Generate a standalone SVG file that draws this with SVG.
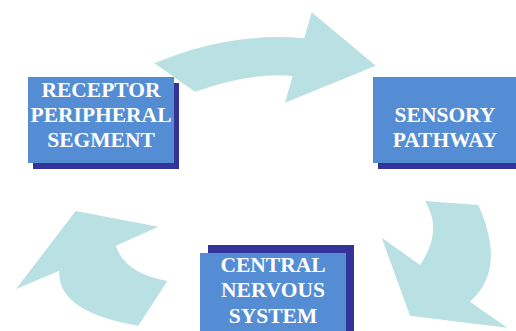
<svg xmlns="http://www.w3.org/2000/svg" width="516" height="331" viewBox="0 0 516 331">
<style>
.arrow{fill:#b9e0e3;stroke:none}
.box{fill:#558dd5}
.shadow{fill:#343399}
.lbl{font-family:"Liberation Serif","Times New Roman",serif;font-weight:bold;font-size:21.5px;fill:#ffffff;text-anchor:middle}
</style>
<rect width="516" height="331" fill="#ffffff"/>
<g id="connectors">
<path class="arrow" d="M154.3,63.3 Q229,31.5 304.3,38.3 L311.7,12.3 L375.7,65.7 L285,102.7 L292.7,76 Q250,72 195,91.7 Z"/>
<path class="arrow" d="M425,201 L478.3,205 C493,238 500,275 470,301.7 L507.3,327.7 L410,315.7 L381.7,237.7 L420,265 Q443.5,231 425,201 Z"/>
<path class="arrow" d="M75.7,211 L158.3,226.7 L116,245.7 Q124,273 167.3,281 L138.3,325.7 Q57,312 59.3,270.7 L16,289 Z"/>
</g>
<g id="receptor">
<rect class="shadow" x="33" y="83" width="146" height="86"/>
<rect class="box" x="28" y="77" width="146" height="86"/>
<text class="lbl" x="101" y="96.7">RECEPTOR</text>
<text class="lbl" x="101" y="121.7">PERIPHERAL</text>
<text class="lbl" x="101" y="146.7">SEGMENT</text>
</g>
<g id="sensory">
<rect class="shadow" x="378" y="83" width="146" height="86"/>
<rect class="box" x="373" y="77" width="146" height="86"/>
<text class="lbl" x="445" y="122.3">SENSORY</text>
<text class="lbl" x="445" y="146.7">PATHWAY</text>
</g>
<g id="central">
<rect class="shadow" x="208" y="245" width="146" height="90"/>
<rect class="box" x="200" y="253" width="146" height="82"/>
<text class="lbl" x="273" y="272.3">CENTRAL</text>
<text class="lbl" x="273" y="297.3">NERVOUS</text>
<text class="lbl" x="273" y="322.7">SYSTEM</text>
</g>
</svg>
